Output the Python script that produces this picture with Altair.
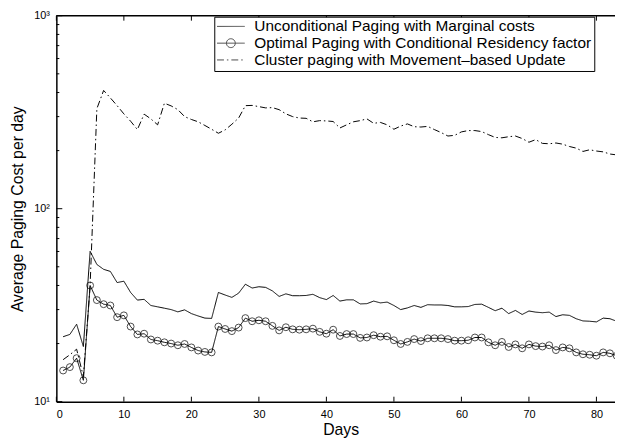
import altair as alt
import pandas as pd

days = list(range(1, 84))

unconditional = [21.7, 22.3, 25.2, 19.3, 60.1, 51.4, 48.5, 47.3, 41.4, 42.1,
                 36.8, 33.6, 33.9, 31.5, 31.0, 30.5, 30.0, 29.2, 29.9, 28.6,
                 27.8, 27.1, 27.0, 36.8, 35.7, 34.7, 36.5, 40.6, 38.8, 39.4,
                 39.1, 37.5, 35.1, 36.2, 35.4, 35.4, 35.5, 36.0, 34.6, 33.8,
                 35.5, 33.2, 33.7, 33.7, 32.1, 32.2, 33.2, 32.5, 32.8, 31.5,
                 30.0, 30.6, 31.5, 30.8, 31.8, 31.7, 31.7, 31.5, 31.0, 31.0,
                 31.1, 31.9, 32.0, 30.8, 29.6, 30.5, 28.6, 29.7, 28.3, 29.5,
                 29.1, 28.9, 29.1, 27.6, 28.2, 28.0, 26.9, 26.2, 26.1, 25.9,
                 27.1, 26.9, 26.1]

optimal = [14.5, 15.1, 16.8, 12.9, 40.0, 33.6, 32.0, 31.5, 27.4, 28.0,
           24.5, 22.3, 22.5, 21.0, 20.7, 20.3, 20.0, 19.6, 19.9, 19.1,
           18.4, 18.1, 18.0, 24.5, 23.8, 23.2, 24.2, 27.1, 26.1, 26.4,
           26.1, 24.7, 23.4, 24.3, 23.7, 23.6, 23.7, 23.9, 23.0, 22.5,
           23.6, 21.9, 22.4, 22.4, 21.4, 21.5, 22.1, 21.7, 21.8, 20.8,
           19.9, 20.4, 21.1, 20.6, 21.3, 21.3, 21.3, 21.1, 20.7, 20.7,
           20.8, 21.5, 21.5, 20.3, 19.6, 20.4, 19.2, 19.8, 18.9, 19.8,
           19.4, 19.3, 19.6, 18.5, 19.1, 18.9, 18.0, 17.6, 17.5, 17.3,
           18.0, 17.8, 17.3]

cluster = [16.5, 17.5, 18.7, 13.5, 40.0, 330, 410, 375, 342, 310,
           284, 257, 309, 292, 272, 352, 341, 326, 300, 290,
           282, 270, 258, 246, 256, 274, 295, 342, 343, 338,
           333, 334, 326, 310, 300, 295, 294, 282, 286, 285,
           283, 262, 272, 282, 286, 292, 277, 280, 272, 258,
           268, 275, 266, 265, 267, 257, 248, 238, 240, 250,
           254, 254, 251, 242, 234, 233, 236, 238, 231, 221,
           228, 218, 217, 219, 216, 210, 206, 198, 202, 199,
           197, 192, 190]

series_names = ["Unconditional Paging with Marginal costs",
                "Optimal Paging with Conditional Residency factor",
                "Cluster paging with Movement\u2013based Update"]

x_ticks = [0, 10, 20, 30, 40, 50, 60, 70, 80]
y_major = [10, 100, 1000]
y_minor = [20, 30, 40, 50, 60, 70, 80, 90, 200, 300, 400, 500, 600, 700, 800, 900]

W, H = 566, 391
FONT = "Liberation Sans"
XT = "Days"
YT = "Average Paging Cost per day"

rows = []
for name, vals in zip(series_names, [unconditional, optimal, cluster]):
    for d, v in zip(days, vals):
        rows.append({"day": d, "value": v, "series": name})
df = pd.DataFrame(rows)

x_scale = alt.Scale(domain=[0, 82.75], nice=False, zero=False)
y_scale = alt.Scale(type="log", domain=[10, 1000], nice=False)

dash_scale = alt.Scale(domain=series_names, range=[[1, 0], [1, 0], [7, 3, 1.5, 3]])
shape_scale = alt.Scale(domain=series_names, range=[
    "M-2,0L2,0",
    "M-2,0L2,0M0.64,0A0.64,0.64,0,1,1,-0.64,0A0.64,0.64,0,1,1,0.64,0",
    "M-2,0L2,0",
])

legend = alt.Legend(
    title=None, orient="none", legendX=160, legendY=1,
    strokeColor="black", fillColor="white", padding=2,
    labelFont=FONT, labelFontSize=15.6, labelColor="black", labelOffset=16,
    labelLimit=0, symbolSize=196, symbolStrokeWidth=1,
    symbolStrokeColor="black", symbolFillColor="transparent",
    rowPadding=-5, symbolOffset=7,
)

x_axis = alt.Axis(values=x_ticks, title=XT, tickSize=0, labelPadding=7,
                  titlePadding=2, titleX=288, titleAlign="center", grid=False)
y_axis = alt.Axis(values=y_major, tickSize=0, labelPadding=7, grid=False,
                  labelExpr="datum.value == 10 ? '10\u00b9' : datum.value == 100 ? '10\u00b2' : '10\u00b3'",
                  title=YT, titlePadding=8)

base = alt.Chart(df)

lines = base.mark_line(color="black", strokeWidth=1, clip=True).encode(
    x=alt.X("day:Q", scale=x_scale, axis=x_axis),
    y=alt.Y("value:Q", scale=y_scale, axis=y_axis),
    strokeDash=alt.StrokeDash("series:N", scale=dash_scale, legend=legend),
    detail="series:N",
)

points = base.transform_filter(
    alt.datum.series == series_names[1]
).mark_point(shape="circle", size=49, color="black", strokeWidth=1, filled=False, clip=True).encode(
    x=alt.X("day:Q", scale=x_scale, axis=x_axis),
    y=alt.Y("value:Q", scale=y_scale, axis=y_axis),
)

legend_layer = base.transform_filter("datum.day < 0").mark_point(color="black", filled=False).encode(
    x=alt.X("day:Q", scale=x_scale, axis=x_axis),
    y=alt.Y("value:Q", scale=y_scale, axis=y_axis),
    shape=alt.Shape("series:N", scale=shape_scale, legend=legend),
    strokeDash=alt.StrokeDash("series:N", scale=dash_scale, legend=legend),
)

xt = alt.Chart(pd.DataFrame({"t": x_ticks}))
bottom_ticks = xt.mark_rule(color="black", strokeWidth=1).encode(
    x=alt.X("t:Q", scale=x_scale, axis=x_axis), y=alt.value(H), y2=alt.value(H - 5))
top_ticks = xt.mark_rule(color="black", strokeWidth=1).encode(
    x=alt.X("t:Q", scale=x_scale, axis=x_axis), y=alt.value(0), y2=alt.value(5))

ymaj = alt.Chart(pd.DataFrame({"v": y_major})).mark_rule(color="black", strokeWidth=1).encode(
    y=alt.Y("v:Q", scale=y_scale, axis=y_axis), x=alt.value(0), x2=alt.value(6))
ymin = alt.Chart(pd.DataFrame({"v": y_minor})).mark_rule(color="black", strokeWidth=1).encode(
    y=alt.Y("v:Q", scale=y_scale, axis=y_axis), x=alt.value(0), x2=alt.value(3))

top_border = alt.Chart(pd.DataFrame({"a": [0]})).mark_rule(color="black", strokeWidth=1.5).encode(
    x=alt.value(0), x2=alt.value(W), y=alt.value(0))

chart = alt.layer(
    lines, points, legend_layer, bottom_ticks, top_ticks, ymaj, ymin, top_border
).properties(
    width=W, height=H,
    autosize=alt.AutoSizeParams(type="none"),
    padding={"left": 49, "top": 5, "right": 0, "bottom": 34},
    background="white",
).configure_view(
    stroke=None
).configure_axis(
    domainColor="black", domainWidth=1.5,
    labelFont=FONT, labelFontSize=11, labelColor="black",
    titleFont=FONT, titleFontSize=16, titleFontWeight="normal", titleColor="black",
)

chart.save("out.html", embed_options={"renderer": "svg", "actions": False})
